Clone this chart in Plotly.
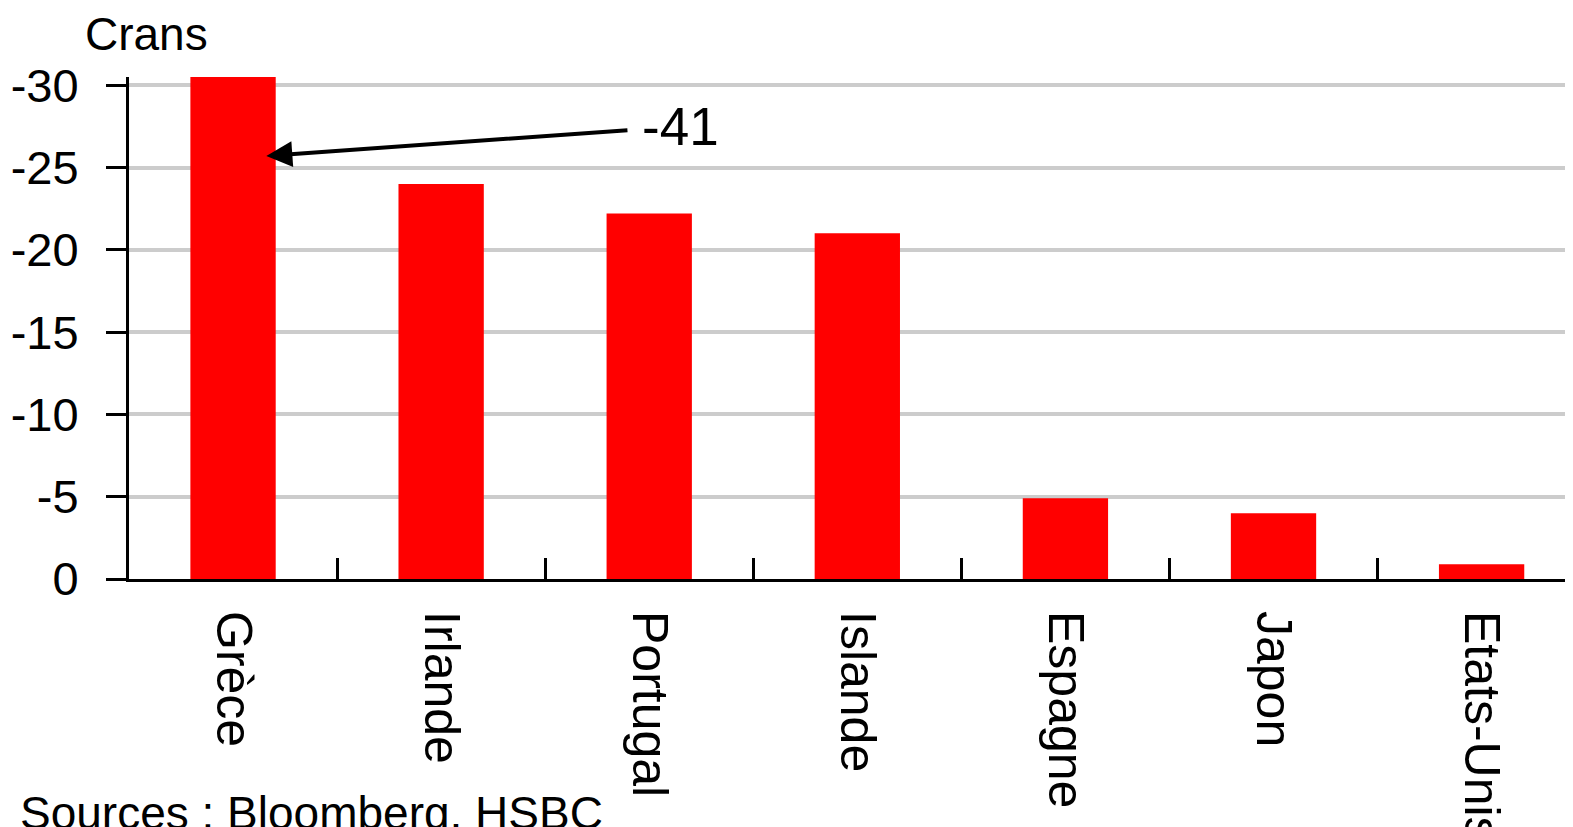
import plotly.graph_objects as go

categories = ["Grèce", "Irlande", "Portugal", "Islande", "Espagne", "Japon", "Etats-Unis"]
values = [-41, -24, -22.2, -21, -4.9, -4, -0.9]
y_ticks = [0, -5, -10, -15, -20, -25, -30]
y_ticktext = ["0", "-5", "-10", "-15", "-20", "-25", "-30"]
annot_text = "-41"
annot_target = (0.16, -25.7)
annot_text_pos = (2.15, -27.5)
y_title = "Crans"
source_text = "Sources : Bloomberg, HSBC"

FONT = "Liberation Sans Narrow, Arial Narrow, Liberation Sans, Arial, sans-serif"

W, H = 1573, 827
# desired plot area on screen, page renders with a small offset
OFF_X, OFF_Y = 7, 7
left, top, bottom, right = 128, 76, 578, 1568
pl, pt = left - OFF_X, top - OFF_Y
pw, ph = right - left, bottom - top
pr = W - pl - pw
pb = H - pt - ph


def px_to_paper(xp, yp):
    return (xp - left) / pw, (bottom - yp) / ph


fig = go.Figure()
fig.add_trace(go.Bar(
    x=categories, y=values, base=0,
    marker=dict(color="#ff0000", line=dict(width=0)),
    width=0.41,
))

fig.update_layout(
    width=W, height=H,
    margin=dict(l=pl, r=pr, t=pt, b=pb, autoexpand=False),
    paper_bgcolor="white", plot_bgcolor="white",
    showlegend=False,
    font=dict(family=FONT, size=50, color="black"),
    xaxis=dict(
        type="category",
        range=[-0.5, 6.42],
        automargin=False,
        tickson="boundaries",
        ticks="inside", ticklen=21, tickwidth=3, tickcolor="black",
        showline=True, linewidth=3, linecolor="black",
        showgrid=False,
        tickangle=90,
        ticklabelstandoff=19,
        tickfont=dict(family=FONT, size=50),
    ),
    yaxis=dict(
        range=[0, -30.5],
        automargin=False,
        tickvals=y_ticks, ticktext=y_ticktext,
        ticks="outside", ticklen=20, tickwidth=3, tickcolor="black",
        showline=True, linewidth=3, linecolor="black",
        showgrid=True, gridcolor="#cccccc", gridwidth=4,
        zeroline=False,
        ticklabelstandoff=18,
        tickfont=dict(family=FONT, size=47),
    ),
)

fig.add_annotation(
    x=annot_target[0], y=annot_target[1], xref="x", yref="y",
    ax=annot_text_pos[0], ay=annot_text_pos[1], axref="x", ayref="y",
    text=annot_text, showarrow=True, borderpad=14,
    arrowhead=2, arrowsize=1.3, arrowwidth=4, arrowcolor="black",
    font=dict(family=FONT, size=53, color="black"),
)

cx, cy = px_to_paper(82, 33)
fig.add_annotation(
    x=cx, y=cy, xref="paper", yref="paper", text=y_title, showarrow=False,
    xanchor="left", yanchor="middle",
    font=dict(family=FONT, size=46, color="black"),
)
sx, sy = px_to_paper(17, 812)
fig.add_annotation(
    x=sx, y=sy, xref="paper", yref="paper", text=source_text, showarrow=False,
    xanchor="left", yanchor="middle",
    font=dict(family=FONT, size=46, color="black"),
)

fig.write_html("out.html")
